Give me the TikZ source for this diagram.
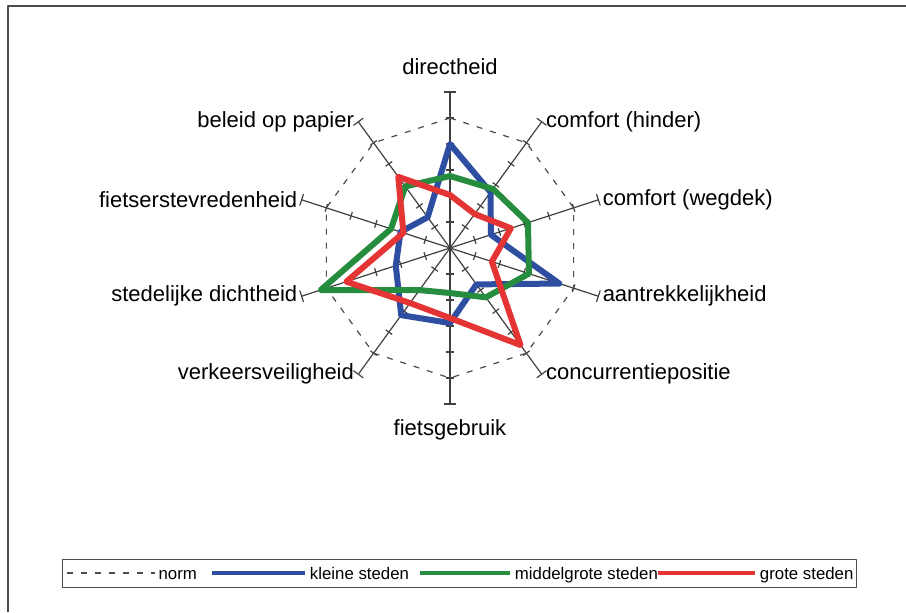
\documentclass[tikz,border=0pt]{standalone}
\usepackage{fontspec}
\setmainfont{Liberation Sans}
\definecolor{kleinblauw}{RGB}{46,78,162}
\definecolor{middelgroen}{RGB}{38,140,62}
\definecolor{grootrood}{RGB}{228,52,52}
\begin{document}
\begin{tikzpicture}[x=.5pt, y=.5pt, line join=round,
    spoke/.style={black!75, line width=.6pt},
    norm/.style={black!70, line width=.6pt, dash pattern=on 3pt off 4pt},
    kleine/.style={kleinblauw, line width=3pt},
    middel/.style={middelgroen, line width=3pt},
    grote/.style={grootrood, line width=3pt},
    lbl/.style={font=\fontsize{11}{13}\selectfont, inner sep=2pt},
    key/.style={text=black, font=\fontsize{8.4}{10}\selectfont, inner sep=1.5pt,
      anchor=base west, yshift=-3pt}]
	\useasboundingbox (-450, -364) rectangle (456, 248);
	\draw [black!70, line width=.6pt] (-442, -364) -- (-442, 242) -- (456, 242);
	% axes, ticks and end bars
	\foreach \a in {90, 54, ..., -234} {
	  \draw [spoke, rotate=\a] (0, 0) -- (156, 0) (156, -6) -- (156, 6);
	  \foreach \r in {26, 52, ..., 130}
	    \draw [spoke, rotate=\a] (\r, -4) -- (\r, 4);
	}
	\draw [norm] (90:130) \foreach \i in {1, ..., 9} { -- (90-36*\i:130)} -- cycle;
	% the three profiles
	\draw [kleine] (90:104) \foreach \r [count=\i] in {69, 43, 115, 45, 75, 83, 57, 52, 38} { -- (90-36*\i:\r)} -- cycle;
	\draw [middel] (90:72) \foreach \r [count=\i] in {73, 82, 83, 61, 45, 52, 136, 62, 76} { -- (90-36*\i:\r)} -- cycle;
	\draw [grote] (90:53) \foreach \r [count=\i] in {42, 64, 44, 120, 70, 68, 109, 49, 88} { -- (90-36*\i:\r)} -- cycle;
	\foreach \a/\r/\anc/\txt [count=\i] in {90/169/south/directheid,
	    54/156/west/comfort (hinder), 18/156/west/comfort (wegdek),
	    -18/156/west/aantrekkelijkheid, -54/156/west/concurrentiepositie,
	    -90/167/north/fietsgebruik, -126/156/east/verkeersveiligheid,
	    -162/156/east/stedelijke dichtheid, 162/156/east/fietserstevredenheid,
	    126/156/east/beleid op papier}
	  \node [lbl, anchor=\anc] (as\i) at (\a:\r) {\txt};
	% legend
	\draw [black!70, line width=.5pt] (-387, -311) rectangle (407, -339);
	\draw [norm] (-383, -325) -- (-295, -325) node [key] (knorm) {norm};
	\draw [kleine, line width=2pt] (-238, -325) -- (-145, -325) node [key] (kkleine) {kleine steden};
	\draw [middel, line width=2pt] (-30, -325) -- (60, -325) node [key] (kmiddel) {middelgrote steden};
	\draw [grote, line width=2pt] (208, -325) -- (305, -325) node [key] (kgrote) {grote steden};
\end{tikzpicture}
\end{document}
